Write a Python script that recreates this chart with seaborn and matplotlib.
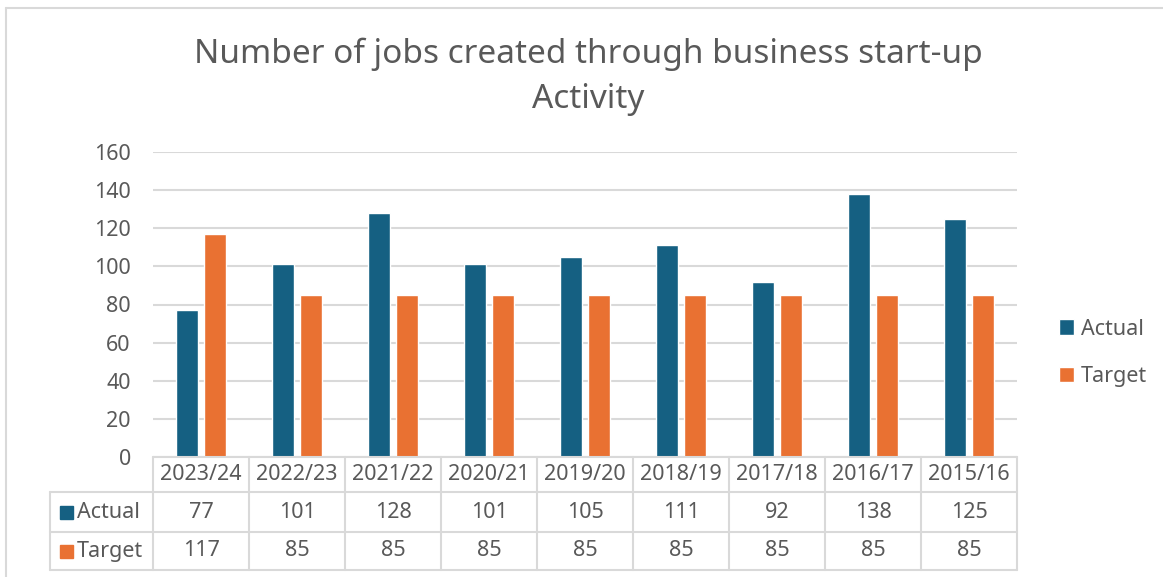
import matplotlib
matplotlib.use("Agg")
import matplotlib.pyplot as plt
import matplotlib.transforms as mtransforms
from matplotlib.lines import Line2D
from matplotlib.patches import Rectangle
import seaborn as sns
import pandas as pd

# Jobs created through business start-up activity, by financial year
years = ["2023/24", "2022/23", "2021/22", "2020/21", "2019/20",
         "2018/19", "2017/18", "2016/17", "2015/16"]
actual = [77, 101, 128, 101, 105, 111, 92, 138, 125]
target = [117, 85, 85, 85, 85, 85, 85, 85, 85]
series_names = ["Actual", "Target"]
series_colors = ["#156082", "#E97132"]
title_text = "Number of jobs created through business start-up\nActivity"
y_ticks = [0, 20, 40, 60, 80, 100, 120, 140, 160]

TEXT = "#595959"
GRID = "#D9D9D9"
FS = 15.5

sns.set_theme(style="white")
plt.rcParams["font.family"] = ["Noto Sans", "DejaVu Sans"]

df = pd.DataFrame({
    "Year": years * 2,
    "Series": [series_names[0]] * len(years) + [series_names[1]] * len(years),
    "Jobs": actual + target,
})

W, H = 1163, 577
fig = plt.figure(figsize=(W / 100, H / 100), dpi=100)
fig.patch.set_facecolor("white")


def fx(px):
    return px / W


def fy(py):
    return 1 - py / H


# plot area
x0, x1, ytop, ybot = 153, 1017, 152, 457
ax = fig.add_axes([fx(x0), fy(ybot), fx(x1) - fx(x0), fy(ytop) - fy(ybot)])

sns.barplot(data=df, x="Year", y="Jobs", hue="Series", order=years,
            hue_order=series_names, palette=series_colors, width=0.58,
            gap=0.21, saturation=1, ax=ax, legend=True)

ax.set_xlim(-0.5, len(years) - 0.5)
ax.set_ylim(0, 160)
ax.set_yticks(y_ticks)
ax.set_yticklabels([str(t) for t in y_ticks], color=TEXT, fontsize=FS)
ax.tick_params(axis="y", length=0, pad=16)
ax.set_xticks([])
ax.set_xlabel("")
ax.set_ylabel("")
ax.grid(axis="y", color=GRID, linewidth=1.5)
ax.set_axisbelow(True)
for s in ax.spines.values():
    s.set_visible(False)

# legend on the right
handles, labels = ax.get_legend_handles_labels()
ax.legend(handles, labels, loc="center left",
          bbox_to_anchor=(fx(1040), fy(353)), bbox_transform=fig.transFigure,
          frameon=False, fontsize=FS, handlelength=0.7, handleheight=0.7,
          handletextpad=0.3, labelspacing=1.25, labelcolor=TEXT)

# title
fig.text(fx(588), fy(77), title_text, ha="center", va="center",
         fontsize=24, color=TEXT, linespacing=1.5)

# data table under the plot
trans = mtransforms.blended_transform_factory(ax.transData, fig.transFigure)
row_top, row1, row2, row_bot = 457, 492, 532, 570
left_col = 50
lw = 1.5

for i in range(len(years) + 1):
    fig.add_artist(Line2D([i - 0.5, i - 0.5], [fy(row_top), fy(row_bot)],
                          transform=trans, color=GRID, lw=lw))
fig.add_artist(Line2D([-0.5, len(years) - 0.5], [fy(row_top)] * 2,
                      transform=trans, color=GRID, lw=lw))
for yy in (row1, row2, row_bot):
    fig.add_artist(Line2D([fx(left_col), fx(x1)], [fy(yy)] * 2,
                          transform=fig.transFigure, color=GRID, lw=lw))
fig.add_artist(Line2D([fx(left_col)] * 2, [fy(row1), fy(row_bot)],
                      transform=fig.transFigure, color=GRID, lw=lw))

for i, yr in enumerate(years):
    fig.text(i, fy((row_top + row1) / 2), yr, transform=trans,
             ha="center", va="center", fontsize=FS, color=TEXT)
    fig.text(i, fy((row1 + row2) / 2), str(actual[i]), transform=trans,
             ha="center", va="center", fontsize=FS, color=TEXT)
    fig.text(i, fy((row2 + row_bot) / 2), str(target[i]), transform=trans,
             ha="center", va="center", fontsize=FS, color=TEXT)

for name, col, (ya, yb) in zip(series_names, series_colors,
                               [(row1, row2), (row2, row_bot)]):
    yc = (ya + yb) / 2
    fig.add_artist(Rectangle((fx(60), fy(yc + 6.5)), fx(13), 13 / H,
                             transform=fig.transFigure, color=col))
    fig.text(fx(77), fy(yc), name, ha="left", va="center",
             fontsize=FS, color=TEXT)

# chart frame edges
fig.add_artist(Line2D([fx(6), 1], [fy(8)] * 2, transform=fig.transFigure,
                      color=GRID, lw=1.5))
fig.add_artist(Line2D([fx(6)] * 2, [0, fy(8)], transform=fig.transFigure,
                      color=GRID, lw=1.5))

fig.savefig("out.png", dpi=100, facecolor="white")
